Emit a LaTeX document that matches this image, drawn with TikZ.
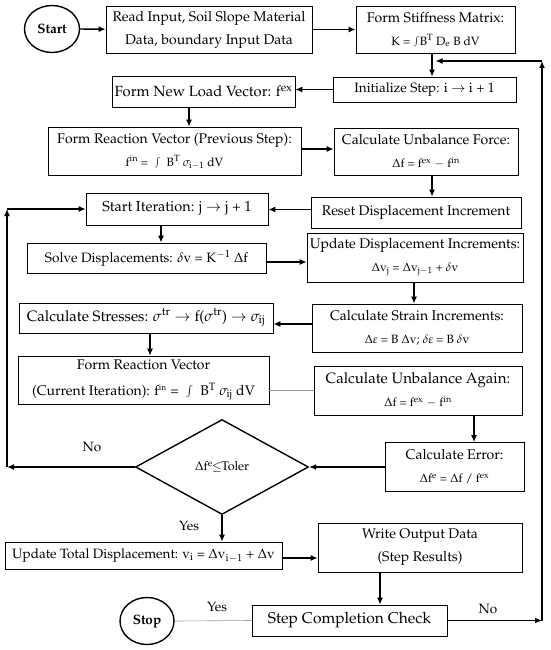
\documentclass[tikz,border=0pt]{standalone}
\usepackage[T1]{fontenc}
\usepackage{mathpazo}
\usetikzlibrary{shapes.geometric,arrows.meta}
\newcommand\fsz[1]{\fontsize{#1}{23}\selectfont}
\newcommand\fl[1]{{\fontsize{12}{23}\selectfont #1}}
\newcommand\sint{\raisebox{0.2ex}{\scalebox{0.75}{$\int$}}}
\begin{document}
\begin{tikzpicture}[x=1pt,y=-1pt,
  box/.style={draw, line width=0.8pt, inner sep=0pt, align=center, font=\fsz{14}},
  term/.style={ellipse, draw, line width=1.4pt, inner sep=0pt, font=\bfseries\fsz{13.5}},
  dec/.style={diamond, draw, line width=1.4pt, inner sep=0pt, font=\fsz{12.5}},
  arr/.style={-{Latex[length=7pt,width=6pt]}, line width=1.3pt},
  thinln/.style={draw=gray!80, line width=0.6pt},
  lbl/.style={font=\fsz{13.5}}]
\useasboundingbox (0,0) rectangle (550,650);
\fill[white] (0,0) rectangle (550,650);

\node[term, minimum width=55pt, minimum height=47pt] (start) at (52,29) {Start};
\node[box, minimum width=206pt, minimum height=47pt] (read) at (209,29.5)
  {Read Input, Soil Slope Material\\Data, boundary Input Data};
\node[box, minimum width=159pt, minimum height=47pt] (stiff) at (435.5,29.5)
  {Form Stiffness Matrix:\\\fl{K = \sint B$^{\mathrm{T}}$ D$_{\mathrm{e}}$ B dV}};
\node[box, font=\fsz{13.5}, minimum width=183pt, minimum height=25pt] (init) at (424.5,89.5)
  {Initialize Step: i $\rightarrow$ i + 1};
\node[box, font=\fsz{14.8}, minimum width=183pt, minimum height=31pt] (load) at (203.5,91.5)
  {Form New Load Vector: f$^{\mathrm{ex}}$};
\node[box, minimum width=253pt, minimum height=48pt] (react1) at (174.5,151)
  {Form Reaction Vector (Previous Step):\\\fl{f$^{\mathrm{in}}$ = \ \sint\ \ B$^{\mathrm{T}}$ $\sigma_{\mathrm{i-1}}$ dV}};
\node[box, minimum width=184pt, minimum height=47pt] (unbal) at (426,151.5)
  {Calculate Unbalance Force:\\\fl{$\Delta$f = f$^{\mathrm{ex}}$ $-$ f$^{\mathrm{in}}$}};
\node[box, minimum width=210pt, minimum height=31pt] (reset) at (416,212.5)
  {Reset Displacement Increment};
\node[box, font=\fsz{14.5}, minimum width=182pt, minimum height=32pt] (startit) at (177,209)
  {Start Iteration: j $\rightarrow$ j + 1};
\node[box, font=\fsz{13.6}, minimum width=239pt, minimum height=30pt] (solve) at (146.5,258)
  {Solve Displacements: $\delta$v = K$^{-1}$ $\Delta$f};
\node[box, minimum width=216pt, minimum height=49pt] (update) at (415,257.5)
  {Update Displacement Increments:\\\fl{$\Delta$v$_{\mathrm{j}}$ = $\Delta$v$_{\mathrm{j-1}}$ + $\delta$v}};
\node[box, minimum width=210pt, minimum height=48pt] (strain) at (417,328)
  {Calculate Strain Increments:\\\fl{$\Delta\varepsilon$ = B $\Delta$v; $\delta\varepsilon$ = B $\delta$v}};
\node[box, font=\fsz{15}, minimum width=254pt, minimum height=30pt] (stress) at (146,318)
  {Calculate Stresses: $\sigma^{\mathrm{tr}}\rightarrow$ f($\sigma^{\mathrm{tr}}$) $\rightarrow\sigma_{\mathrm{ij}}$};
\node[box, font=\fontsize{14}{26}\selectfont, minimum width=251pt, minimum height=48pt] (react2) at (143.5,380)
  {Form Reaction Vector\\(Current Iteration): f$^{\scriptscriptstyle\mathrm{in}}$ = \ \sint\ \ B$^{\mathrm{T}}$ $\sigma_{\mathrm{ij}}$ dV};
\node[box, font=\fsz{15}, minimum width=208pt, minimum height=49pt] (unbal2) at (418,390.5)
  {Calculate Unbalance Again:\\\fl{$\Delta$f = f$^{\mathrm{ex}}$ $-$ f$^{\mathrm{in}}$}};
\node[box, minimum width=139pt, minimum height=49pt] (error) at (454.5,467)
  {Calculate Error:\\\fl{$\Delta$f$^{\mathrm{e}}$ = $\Delta$f / f$^{\mathrm{ex}}$}};
\node[dec, minimum width=173pt, minimum height=95pt] (dia) at (222,467)
  {$\Delta$f$^{\mathrm{e}}$\kern-1pt$\leq$\kern-1ptToler};
\node[box, font=\fsz{13.5}, minimum width=277pt, minimum height=27pt] (updtot) at (143.5,555.5)
  {Update Total Displacement: v$_{\mathrm{i}}$ = $\Delta$v$_{\mathrm{i-1}}$ + $\Delta$v};
\node[box, minimum width=204pt, minimum height=49pt] (write) at (420,547.5)
  {Write Output Data\\(Step Results)};
\node[box, font=\fsz{15.6}, minimum width=195pt, minimum height=31pt] (stepc) at (349.5,620.5)
  {Step Completion Check};
\node[term, minimum width=54pt, minimum height=47pt] (stop) at (147,621) {Stop};

\coordinate (L1) at (7,209);
\coordinate (L2) at (7,467);
\coordinate (R1) at (542,620.5);
\coordinate (R2) at (542,61);

\draw[arr] (start) -- (read);
\draw[arr] (read) -- (stiff);
\draw[arr] ([xshift=-3.5pt]stiff.south) -- ([xshift=-3.5pt]stiff.south |- init.north);
\draw[arr] (init.west) -- (init.west -| load.east);
\draw[arr] ([xshift=-14.5pt]load.south) -- ([xshift=-14.5pt]load.south |- react1.north);
\draw[arr] ([yshift=2pt]react1.east) -- ([yshift=2pt]react1.east -| unbal.west);
\draw[arr] ([xshift=6pt]unbal.south) -- ([xshift=6pt]unbal.south |- reset.north);
\draw[arr] ([yshift=3pt]reset.west) -- ([yshift=3pt]reset.west -| startit.east);
\draw[arr] (dia.west) -- (L2);
\draw[arr] (L2) -- (L1);
\draw[arr] (L1) -- (startit.west);
\draw[arr] ([xshift=-16pt]startit.south) -- ([xshift=-16pt]startit.south |- solve.north);
\draw[arr] ([yshift=-4pt]solve.east) -- ([yshift=-4pt]solve.east -| update.west);
\draw[arr] ([xshift=-1pt]update.south) -- ([xshift=-1pt]update.south |- strain.north);
\draw[arr] ([yshift=4pt]strain.west) -- ([yshift=4pt]strain.west -| stress.east);
\draw[arr] ([xshift=4pt]stress.south) -- ([xshift=4pt]stress.south |- react2.north);
\draw[thinln] (unbal2.west) -- (unbal2.west -| react2.east);
\draw[arr] ([xshift=19.5pt]error.north |- unbal2.south) -- ([xshift=19.5pt]error.north);
\draw[arr] (error.west) -- (dia.east);
\draw[arr] (dia.south) -- (dia.south |- updtot.north);
\draw[arr] ([yshift=-2.5pt]updtot.east) -- ([yshift=-2.5pt]updtot.east -| write.west);
\draw[arr] ([xshift=-40pt]write.south) -- ([xshift=-40pt]write.south |- stepc.north);
\draw[thinln] (stepc.west) -- (stop.east);
\draw[arr] (stepc.east) -- (R1);
\draw[arr] (R1) -- (R2);
\draw[arr] (R2) -- (R2 -| stiff.south);

\node[lbl] (no1) at (92,447) {No};
\node[lbl] (yes1) at (189,526) {Yes};
\node[lbl] (yes2) at (217,607) {Yes};
\node[lbl] (no2) at (488,609) {No};
\end{tikzpicture}
\end{document}
